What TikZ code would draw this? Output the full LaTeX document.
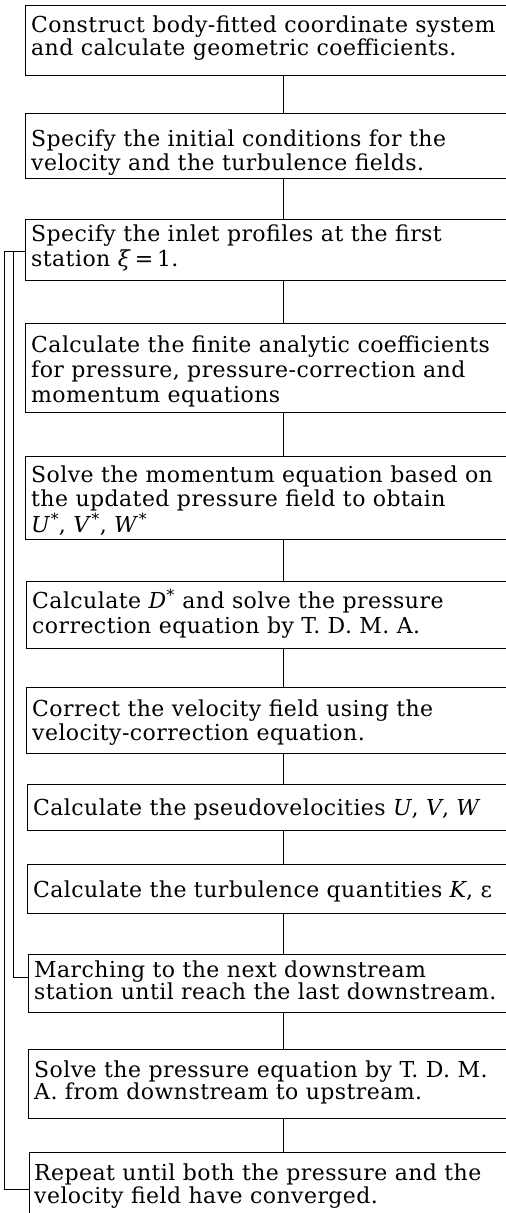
\documentclass[tikz,border=0pt]{standalone}
\usepackage{fontspec}
\setmainfont[LetterSpace=2.0]{DejaVu Serif}
\newcommand{\var}[1]{\textit{#1}}
\newcommand{\str}{\textsuperscript{*}}
\begin{document}
\begin{tikzpicture}[x=1pt,y=-1pt,
  boxline/.style={line width=1pt,black},
  conn/.style={line width=1pt,black},
  loopline/.style={line width=1pt,black},
  boxarea/.style={draw=none,inner sep=0pt,anchor=north west,minimum width=#1},
  txt/.style={inner sep=0pt,anchor=base west,font=\fontsize{22}{24}\selectfont}]
\useasboundingbox (0,0) rectangle (506,1213);
% box frames (left, top, height)
\node[boxarea=481,minimum height=70] (b1) at (25,5) {};
\node[boxarea=481,minimum height=65] (b2) at (25,113) {};
\node[boxarea=481,minimum height=61] (b3) at (25,219) {};
\node[boxarea=481,minimum height=89] (b4) at (25,323) {};
\node[boxarea=481,minimum height=83] (b5) at (25,456) {};
\node[boxarea=480,minimum height=67] (b6) at (26,581) {};
\node[boxarea=480,minimum height=66] (b7) at (26,687) {};
\node[boxarea=479,minimum height=46] (b8) at (27,784) {};
\node[boxarea=479,minimum height=49] (b9) at (27,864) {};
\node[boxarea=478,minimum height=58] (b10) at (28,954) {};
\node[boxarea=478,minimum height=69] (b11) at (28,1049) {};
\node[boxarea=477,minimum height=80] (b12) at (29,1152) {};
\foreach \b in {b1,b2,b3,b4,b5,b6,b7,b8,b9,b10,b11,b12}
  \draw[boxline] (\b.north east) -- (\b.north west) -- (\b.south west) -- (\b.south east);
% texts
\node[txt] (t1a) at (31,32) {Construct body-fitted coordinate system};
\node[txt] (t1b) at (31,55) {and calculate geometric coefficients.};
\node[txt] (t2a) at (31,146) {Specify the initial conditions for the};
\node[txt] (t2b) at (31,170) {velocity and the turbulence fields.};
\node[txt] (t3a) at (31,241) {Specify the inlet profiles at the first};
\node[txt] (t3b) at (31,266) {station \var{ξ}\,=\,1.};
\node[txt] (t4a) at (31,352) {Calculate the finite analytic coefficients};
\node[txt] (t4b) at (31,377) {for pressure, pressure-correction and};
\node[txt] (t4c) at (31,402) {momentum equations};
\node[txt] (t5a) at (31,482) {Solve the momentum equation based on};
\node[txt] (t5b) at (31,506) {the updated pressure field to obtain};
\node[txt] (t5c) at (31,532) {\var{U}\str, \var{V}\str, \var{W}\str};
\node[txt] (t6a) at (32,608) {Calculate \var{D}\str{} and solve the pressure};
\node[txt] (t6b) at (32,633) {correction equation by T. D. M. A.};
\node[txt] (t7a) at (32,716) {Correct the velocity field using the};
\node[txt] (t7b) at (32,740) {velocity-correction equation.};
\node[txt] (t8a) at (33,815) {Calculate the pseudovelocities \var{U}, \var{V}, \var{W}};
\node[txt] (t9a) at (33,897) {Calculate the turbulence quantities \var{K}, ε};
\node[txt] (t10a) at (34,977) {Marching to the next downstream};
\node[txt] (t10b) at (34,999) {station until reach the last downstream.};
\node[txt] (t11a) at (34,1077) {Solve the pressure equation by T. D. M.};
\node[txt] (t11b) at (34,1099) {A. from downstream to upstream.};
\node[txt] (t12a) at (34,1180) {Repeat until both the pressure and the};
\node[txt] (t12b) at (34,1203) {velocity field have converged.};
% vertical connectors
\coordinate (cx) at (283,0);
\foreach \a/\b in {b1/b2,b2/b3,b3/b4,b4/b5,b5/b6,b6/b7,b7/b8,b8/b9,b9/b10,b10/b11,b11/b12}
  \draw[conn] (\a.south -| cx) -- (\b.north -| cx);
% feedback loops
\coordinate (outerx) at (4,0);
\coordinate (innerx) at (13,0);
\coordinate (ljoin) at (b3.west |- 0,251);
\coordinate (linner) at (b10.west |- 0,977);
\coordinate (louter) at (b12.west |- 0,1189);
\draw[loopline] (ljoin) -- (ljoin -| outerx) -- (louter -| outerx) -- (louter);
\draw[loopline] (ljoin -| innerx) -- (linner -| innerx) -- (linner);
\end{tikzpicture}
\end{document}
